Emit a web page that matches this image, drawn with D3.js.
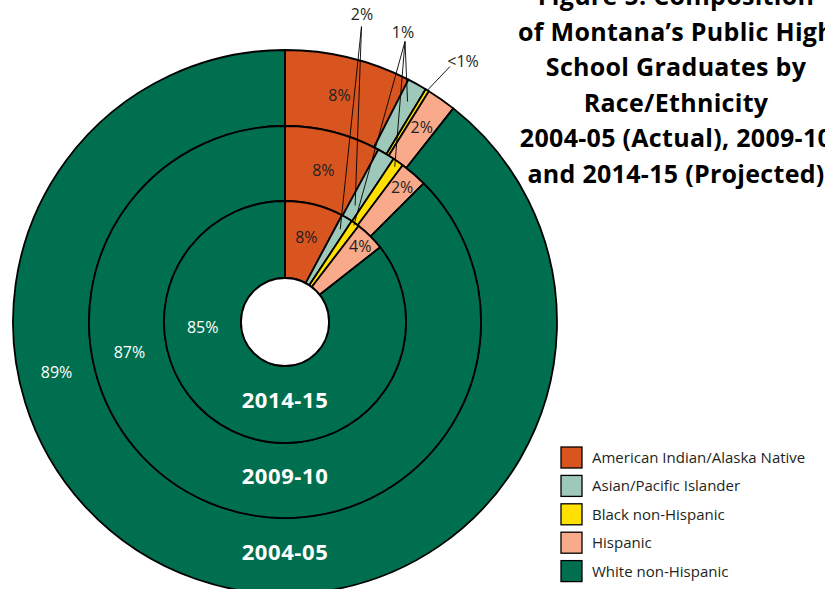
<!DOCTYPE html>
<html>
<head>
<meta charset="utf-8">
<script src="https://cdn.jsdelivr.net/npm/d3@7"></script>
<style>
    body { margin: 0; background: #fff; }
    svg { display: block; font-family: 'Open Sans', 'Noto Sans', sans-serif; }
    .arc { stroke: #000; stroke-width: 1.8; }
    .leader { stroke: #000; stroke-width: 0.9; fill: none; }
</style>
</head>
<body>
<script>
//
// DATA
//
const categories = [
    'American Indian/Alaska Native',
    'Asian/Pacific Islander',
    'Black non-Hispanic',
    'Hispanic',
    'White non-Hispanic',
]
// rings from outside to inside
const years = ['2004-05', '2009-10', '2014-15']
const shares2004 = [7.5, 1.15, 0.22, 1.75, 89.38]
const shares2009 = [7.9, 1.45, 0.9, 2.25, 87.5]
const shares2014 = [7.8, 1.5, 1.1, 4.0, 85.6]
const labels2004 = ['8%', '1%', '<1%', '2%', '89%']
const labels2009 = ['8%', '2%', '1%', '2%', '87%']
const labels2014 = ['8%', '2%', '1%', '4%', '85%']
const titleLines = [
    'Figure 5.  Composition',
    'of Montana’s Public High',
    'School Graduates by',
    'Race/Ethnicity',
    '2004-05 (Actual), 2009-10',
    'and 2014-15 (Projected)',
]

//
// GLOBALS
//
const width = 825
const height = 589
const cx = 285
const cy = 322
// ring edges, from the hole outwards
const radii = [44, 121, 196, 272]
const colors = ['#d9551f', '#9ec8b9', '#ffe000', '#f8aa8b', '#006f50']
const ink = '#231f20'

const rings = [
    { year: years[0], shares: shares2004, labels: labels2004, inner: radii[2], outer: radii[3] },
    { year: years[1], shares: shares2009, labels: labels2009, inner: radii[1], outer: radii[2] },
    { year: years[2], shares: shares2014, labels: labels2014, inner: radii[0], outer: radii[1] },
]

const color = d3.scaleOrdinal().domain(categories).range(colors)
const pie = d3.pie().sort(null).startAngle(0).endAngle(2 * Math.PI)

const svg = d3.select('body').append('svg').attr('width', width).attr('height', height)
const chart = svg.append('g').attr('transform', `translate(${cx},${cy})`)

// point at a given radius and angle (d3 angles: 0 at top, clockwise)
const polar = (r, a) => [r * Math.sin(a), -r * Math.cos(a)]

// slice arcs per ring
const ringArcs = rings.map((ring) => pie(ring.shares))

// 1) draw the rings
rings.forEach((ring, ri) => {
    const arc = d3.arc().innerRadius(ring.inner).outerRadius(ring.outer)
    chart
        .append('g')
        .attr('class', 'ring ring-' + ri)
        .selectAll('path')
        .data(ringArcs[ri])
        .join('path')
        .attr('class', 'arc')
        .attr('d', arc)
        .attr('fill', (d, i) => color(categories[i]))
})

// hole in the middle
chart.append('circle').attr('r', radii[0]).attr('fill', '#fff').attr('stroke', '#000').attr('stroke-width', 1.8)

// 2) in-slice percentage labels
// radial position inside the ring (0 = inner edge, 1 = outer edge)
const aiFrac = [0.49, 0.47, 0.57]
const hispFrac = [0.55, 0.77, 0.82]
// white labels sit on the left side of the rings
const whiteAngle = [257.5, 259, 266.5]

rings.forEach((ring, ri) => {
    const arcs = ringArcs[ri]
    const span = ring.outer - ring.inner
    const spots = [
        { i: 0, r: ring.inner + span * aiFrac[ri], a: (arcs[0].startAngle + arcs[0].endAngle) / 2 },
        { i: 3, r: ring.inner + span * hispFrac[ri], a: (arcs[3].startAngle + arcs[3].endAngle) / 2 },
        { i: 4, r: (ring.inner + ring.outer) / 2, a: (whiteAngle[ri] * Math.PI) / 180 },
    ]
    spots.forEach((s) => {
        const [x, y] = polar(s.r, s.a)
        chart
            .append('text')
            .attr('x', x)
            .attr('y', y)
            .attr('dy', '0.36em')
            .attr('text-anchor', 'middle')
            .style('font-size', '16px')
            .attr('fill', s.i === 4 ? '#fff' : ink)
            .text(ring.labels[s.i])
    })
})

// 3) labels with leader lines for the thin slices
// targets: [ring index, category index, radial fraction]
const leaders = [
    { ring: 2, cat: 1, x: 362, y: 20, from: [361.5, 26.5], targets: [[2, 1, 0.83], [1, 1, 0.2]] },
    { ring: 0, cat: 1, x: 403, y: 38, from: [405, 41.5], targets: [[0, 1, 0.74], [1, 2, 0.92], [2, 2, 0.97]] },
    { ring: 0, cat: 2, x: 463, y: 67, from: [450, 66.5], targets: [[0, 2, 0.99]] },
]

leaders.forEach((l) => {
    svg.append('text')
        .attr('x', l.x)
        .attr('y', l.y)
        .attr('text-anchor', 'middle')
        .style('font-size', '16px')
        .attr('fill', ink)
        .text(rings[l.ring].labels[l.cat])
    l.targets.forEach(([ri, ci, f]) => {
        const ring = rings[ri]
        const d = ringArcs[ri][ci]
        const [x, y] = polar(ring.inner + (ring.outer - ring.inner) * f, (d.startAngle + d.endAngle) / 2)
        svg.append('line')
            .attr('class', 'leader')
            .attr('x1', l.from[0])
            .attr('y1', l.from[1])
            .attr('x2', cx + x)
            .attr('y2', cy + y)
    })
})

// 4) year names at the bottom of each ring (a little above the ring middle)
rings.forEach((ring) => {
    chart
        .append('text')
        .attr('x', 0)
        .attr('y', (ring.inner + ring.outer) / 2 - 4)
        .attr('dy', '0.36em')
        .attr('text-anchor', 'middle')
        .style('font-size', '22px')
        .style('font-weight', 'bold')
        .style('letter-spacing', '0.6px')
        .attr('fill', '#fff')
        .text(ring.year)
})

// 5) title, top right (partly out of frame as in the source figure)
svg.append('g')
    .selectAll('text')
    .data(titleLines)
    .join('text')
    .attr('x', 676)
    .attr('y', (d, i) => 5 + i * 35.6)
    .attr('text-anchor', 'middle')
    .style('font-size', '25px')
    .style('font-weight', 'bold')
    .style('letter-spacing', '0.3px')
    .attr('fill', '#000')
    .text((d) => d)

// 6) legend
const legend = svg
    .append('g')
    .attr('transform', 'translate(561,447)')
    .selectAll('g')
    .data(categories)
    .join('g')
    .attr('transform', (d, i) => `translate(0,${i * 28.4})`)

legend
    .append('rect')
    .attr('width', 21)
    .attr('height', 21)
    .attr('fill', (d) => color(d))
    .attr('stroke', '#000')
    .attr('stroke-width', 1.3)

legend
    .append('text')
    .attr('x', 31)
    .attr('y', 10.5)
    .attr('dy', '0.36em')
    .style('font-size', '15px')
    .attr('fill', ink)
    .text((d) => d)
</script>
</body>
</html>
